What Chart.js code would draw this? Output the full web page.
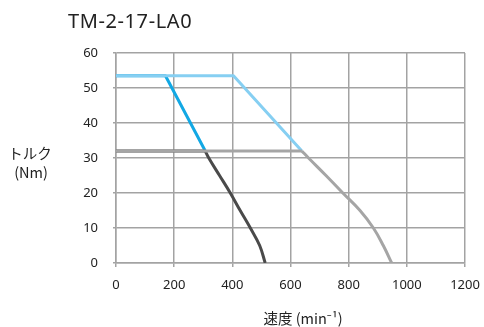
<!DOCTYPE html>
<html><head><meta charset="utf-8">
<script src="https://cdn.jsdelivr.net/npm/chart.js@4/dist/chart.umd.min.js"></script>
<style>html,body{margin:0;padding:0;background:#fff}#wrap{width:484px;height:327px}</style>
</head><body><div id="wrap"><canvas id="c" width="484" height="327"></canvas></div>
<script>
const chartTitle = "TM-2-17-LA0";
const yTitle = ["トルク", "(Nm)"];
const xTitle = "速度 (min⁻¹)";
const xTicks = [0, 200, 400, 600, 800, 1000, 1200];
const yTicks = [0, 10, 20, 30, 40, 50, 60];

// light grey: flat part then curved falloff
const lightGreyFlatX = [0, 639];
const lightGreyFlatY = [32, 32];
const lightGreyCurveX = [639, 662, 722, 780, 839, 885, 919, 948];
const lightGreyCurveY = [32, 30, 25, 20, 15, 10, 5, 0];
// dark grey
const darkGreyFlatX = [0, 307];
const darkGreyFlatY = [32, 32];
const darkGreyCurveX = [307, 319, 356, 393, 427, 462, 494, 513];
const darkGreyCurveY = [32, 30, 25, 20, 15, 10, 5, 0];
const lightBlueX = [0, 404, 639];
const lightBlueY = [53.5, 53.5, 32];
const blueX = [0, 170, 307];
const blueY = [53.5, 53.5, 32];

const pts = (xs, ys) => xs.map((x, i) => ({x, y: ys[i]}));
const font = "'Noto Sans', Roboto, sans-serif";
const LG = '#a5a5a5', DG = '#4a4a4a';

const textPlugin = {
  id: 'texts',
  afterDraw(chart) {
    const ctx = chart.ctx;
    ctx.save();
    ctx.fillStyle = '#222';
    ctx.font = "20px " + font;
    if ('letterSpacing' in ctx) ctx.letterSpacing = '0.6px';
    ctx.textAlign = 'left'; ctx.textBaseline = 'middle';
    ctx.fillText(chartTitle, 68, 22);
    if ('letterSpacing' in ctx) ctx.letterSpacing = '0px';
    ctx.font = "14.5px 'Noto Sans CJK JP', " + font;
    ctx.textAlign = 'center';
    ctx.fillText(yTitle[0], 30, 153);
    ctx.fillText(yTitle[1], 31, 172);
    ctx.fillText(xTitle, 303, 318);
    ctx.restore();
  }
};

const flat = {showLine: true, borderWidth: 3, pointRadius: 0, tension: 0, fill: false, borderJoinStyle: 'round'};
const curve = {showLine: true, borderWidth: 3, pointRadius: 0, fill: false, tension: 0.4};

new Chart(document.getElementById('c'), {
  type: 'scatter',
  data: {
    datasets: [
      Object.assign({data: pts(lightGreyFlatX, lightGreyFlatY), borderColor: LG}, flat),
      Object.assign({data: pts(lightGreyCurveX, lightGreyCurveY), borderColor: LG}, curve),
      Object.assign({data: pts(darkGreyFlatX, darkGreyFlatY), borderColor: DG}, flat),
      Object.assign({data: pts(darkGreyCurveX, darkGreyCurveY), borderColor: DG}, curve),
      Object.assign({data: pts(lightBlueX, lightBlueY), borderColor: '#86cff2'}, flat),
      Object.assign({data: pts(blueX, blueY), borderColor: '#12a8e4'}, flat)
    ]
  },
  plugins: [textPlugin],
  options: {
    responsive: false, animation: false,
    layout: {padding: {left: 0, right: 19, top: 53, bottom: 0}},
    plugins: {legend: {display: false}, tooltip: {enabled: false}},
    scales: {
      x: {
        type: 'linear', min: 0, max: 1200,
        afterBuildTicks: s => { s.ticks = xTicks.map(v => ({value: v})); },
        afterFit: s => { s.height = 64; s.paddingLeft = 0; s.paddingRight = 0; },
        grid: {color: '#a3a3a3', lineWidth: 1.5, tickLength: 4, tickColor: '#a3a3a3'},
        border: {color: '#a3a3a3', width: 1.5},
        ticks: {color: '#222', font: {size: 13, family: font}, padding: 10, maxRotation: 0, callback: v => String(v)}
      },
      y: {
        min: 0, max: 60,
        afterBuildTicks: s => { s.ticks = yTicks.map(v => ({value: v})); },
        afterFit: s => { s.width = 116; s.paddingTop = 0; s.paddingBottom = 0; },
        grid: {color: '#a3a3a3', lineWidth: 1.5, tickLength: 3, tickColor: '#a3a3a3'},
        border: {color: '#a3a3a3', width: 1.5},
        ticks: {color: '#222', font: {size: 13, family: font}, padding: 15, callback: v => String(v)}
      }
    }
  }
});
</script></body></html>
